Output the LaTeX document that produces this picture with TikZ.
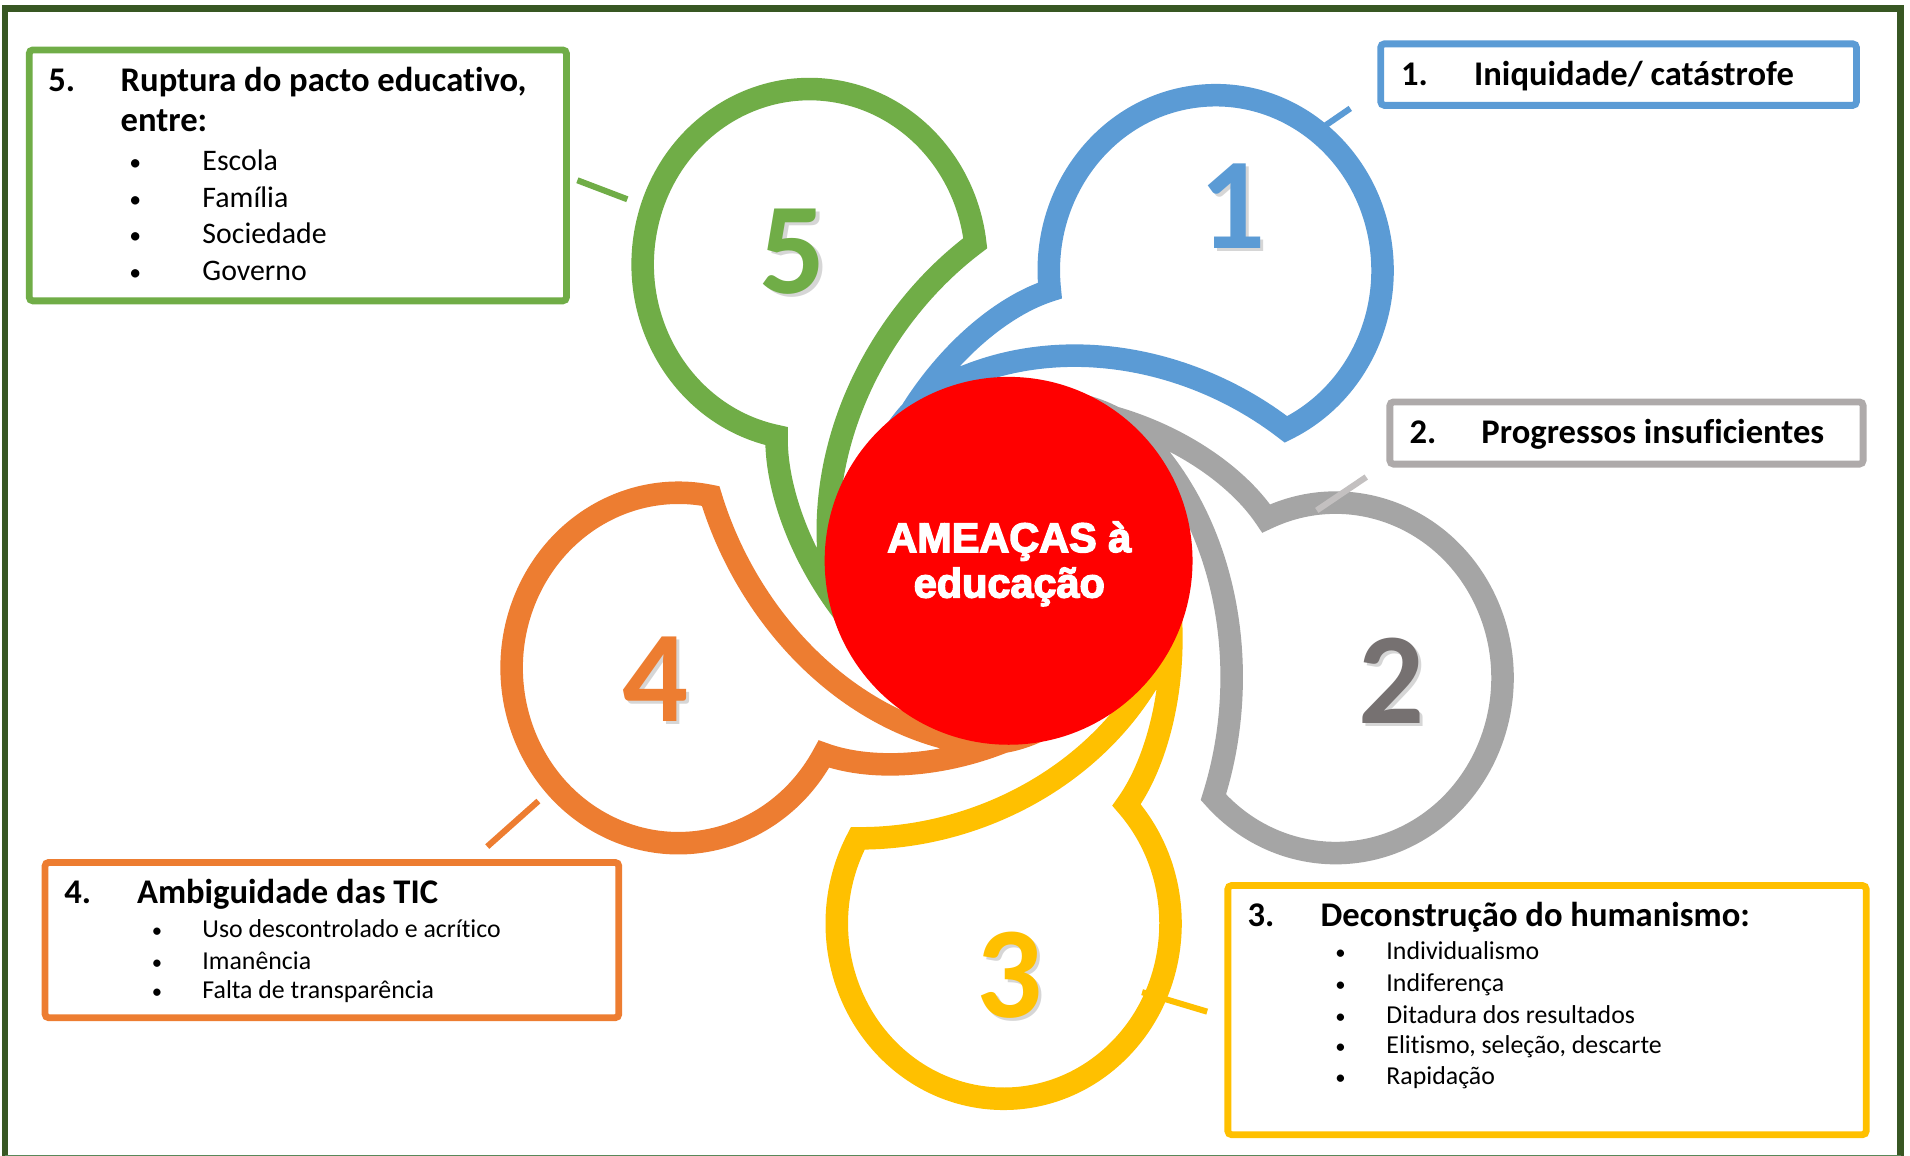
\documentclass[tikz,border=0pt]{standalone}
\usepackage{fontspec}
\setmainfont{Carlito}[Ligatures={NoCommon}]
\newfontfamily\ctrfont{Liberation Sans}[BoldFeatures={FakeBold=3.5}]
\usetikzlibrary{calc}

\definecolor{cblue}{HTML}{5B9BD5}
\definecolor{cgray}{HTML}{A5A5A5}
\definecolor{cgrayd}{HTML}{767171}
\definecolor{cgraybox}{HTML}{AEAAAA}
\definecolor{cgraytick}{HTML}{C3C0C0}
\definecolor{cyel}{HTML}{FFC000}
\definecolor{corg}{HTML}{ED7D31}
\definecolor{cgrn}{HTML}{70AD47}
\definecolor{cframe}{HTML}{385723}
\definecolor{cred}{HTML}{FF0000}

\tikzset{
  petalline/.style={line width=18.5pt, fill=white, line join=miter},
  boxline/.style={draw, rectangle, line width=5.6pt, rounded corners=3pt, inner sep=0pt, fill=white},
  ttl/.style={anchor=base west, inner sep=0pt, font=\fontsize{28.4}{34}\selectfont\bfseries},
  itm/.style={anchor=base west, inner sep=0pt, font=\fontsize{21.2}{25}\selectfont},
  itmg/.style={anchor=base west, inner sep=0pt, font=\fontsize{24.5}{29}\selectfont},
  bul/.style={anchor=base, inner sep=0pt, font=\fontsize{17}{20}\selectfont},
  bulg/.style={anchor=base, inner sep=0pt, font=\fontsize{19.5}{23}\selectfont},
  digit/.style={anchor=base, inner sep=0pt, font=\fontsize{107}{107}\selectfont\bfseries},
  dshadow/.style={digit, text=black, opacity=0.16},
  ticklink/.style={line width=5pt},
  ctr/.style={anchor=base, inner sep=0pt, text=white, font=\ctrfont\fontsize{34}{40}\selectfont\bfseries},
}

\newcommand{\petal}[2]{%
  \begin{scope}[shift={(828,-460.4)}, yscale=1.05, rotate=#1]
    \draw[petalline, draw=#2] (-115,40) .. controls (-90,130) and (-20,195) .. (33.9,211.3)
      arc[start angle=186.6, end angle=-65.1, radius=137]
      .. controls (150,160) and (40,180) .. (-50,138)
      .. controls (-90,119) and (-110,80) .. (-115,40) -- cycle;
  \end{scope}}

\begin{document}
\begin{tikzpicture}[x=1pt,y=1pt]
\useasboundingbox (0,0) rectangle (1568,-949);
\fill[white] (0,0) rectangle (1568,-949);

% outer frame
\draw[cframe, line width=5.5pt] (4.1,-952) -- (4.1,-7) -- (1560.3,-7) -- (1560.3,-952);
\draw[black!40!green!30!gray, line width=1.2pt] (4.1,-948.4) -- (1560.3,-948.4);

% petals
\petal{0}{cblue}
\petal{-72}{cgray}
\petal{-144}{cyel}
\petal{-216}{corg}
\petal{-288}{cgrn}

% centre
\node[circle, fill=cred, minimum size=302pt, inner sep=0pt] (core) at (828,-460.4) {};
\node[ctr] (ctra) at (828.6,-453.2) {AMEAÇAS à};
\node[ctr] (ctrb) at (828.6,-490.5) {educação};

% digits
\node[dshadow] (d1s) at (1014.5,-206.1) {1};
\node[digit, text=cblue] (d1) at (1012,-203.6) {1};
\node[dshadow] (d2s) at (1144.8,-596.3) {2};
\node[digit, text=cgrayd] (d2) at (1142.3,-593.8) {2};
\node[dshadow] (d3s) at (831.2,-837.5) {3};
\node[digit, text=cyel] (d3) at (828.7,-835) {3};
\node[dshadow] (d4s) at (540.5,-594.5) {4};
\node[digit, text=corg] (d4) at (538,-592) {4};
\node[dshadow] (d5s) at (653.5,-243.3) {5};
\node[digit, text=cgrn] (d5) at (651,-240.8) {5};

% connector ticks
\coordinate (t1a) at (1075,-112);   \coordinate (t1b) at (1108.5,-89);
\coordinate (t2a) at (1081,-419);   \coordinate (t2b) at (1121.6,-391.6);
\coordinate (t3a) at (937.6,-814.5); \coordinate (t3b) at (991,-830.5);
\coordinate (t4a) at (442,-657.6);  \coordinate (t4b) at (400,-695);
\coordinate (t5a) at (474,-148);    \coordinate (t5b) at (515,-163.6);
\draw[ticklink, cblue] (t1a) -- (t1b);
\draw[ticklink, cgraytick] (t2a) -- (t2b);
\draw[ticklink, cyel] (t3a) -- (t3b);
\draw[ticklink, corg] (t4a) -- (t4b);
\draw[ticklink, cgrn] (t5a) -- (t5b);

% box 1
\node[boxline, draw=cblue, minimum width=390.5pt, minimum height=50.5pt] (box1) at (1328.75,-61.25) {};
\node[ttl] (n1) at (1150,-70) {1.};
\node[ttl] (h1) at (1210,-70) {Iniquidade/ catástrofe};

% box 2
\node[boxline, draw=cgraybox, minimum width=388.5pt, minimum height=51pt] (box2) at (1335.25,-355.5) {};
\node[ttl] (n2) at (1157,-364) {2.};
\node[ttl] (h2) at (1216,-364) {Progressos insuficientes};

% box 3
\node[boxline, draw=cyel, minimum width=524pt, minimum height=204.5pt] (box3) at (1270,-829.25) {};
\node[ttl] (n3) at (1024,-761) {3.};
\node[ttl] (h3) at (1084,-761) {Deconstrução do humanismo:};
\foreach \yy/\tx [count=\i] in {788/Individualismo, 814/Indiferença, 840/Ditadura dos resultados, 865/{Elitismo, seleção, descarte}, 890/Rapidação}{
  \node[bul] (b3\i) at (1100.4,-\yy) {•};
  \node[itm] (i3\i) at (1138,-\yy) {\tx};
}

% box 4
\node[boxline, draw=corg, minimum width=471pt, minimum height=127.5pt] (box4) at (272.5,-771.75) {};
\node[ttl] (n4) at (52.6,-741.5) {4.};
\node[ttl] (h4) at (112.3,-741.5) {Ambiguidade das TIC};
\foreach \yy/\tx [count=\i] in {770/Uso descontrolado e acrítico, 795.5/Imanência, 820/Falta de transparência}{
  \node[bul] (b4\i) at (129,-\yy) {•};
  \node[itm] (i4\i) at (166,-\yy) {\tx};
}

% box 5
\node[boxline, draw=cgrn, minimum width=441pt, minimum height=206pt] (box5) at (244.5,-144) {};
\node[ttl] (n5) at (39.5,-75.2) {5.};
\node[ttl] (h5a) at (98.9,-75.2) {Ruptura do pacto educativo,};
\node[ttl] (h5b) at (98.9,-108) {entre:};
\foreach \yy/\tx [count=\i] in {139.6/Escola, 170/Família, 200/Sociedade, 230.6/Governo}{
  \node[bulg] (b5\i) at (111,-\yy) {•};
  \node[itmg] (i5\i) at (166,-\yy) {\tx};
}
\end{tikzpicture}
\end{document}
